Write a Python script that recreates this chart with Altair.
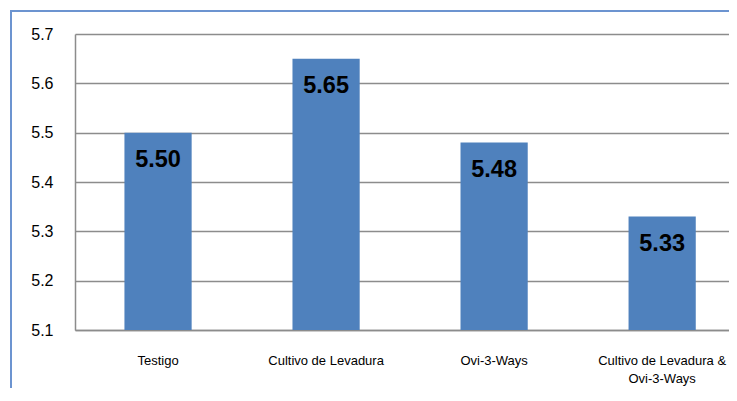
import altair as alt
import pandas as pd

categories = ["Testigo", "Cultivo de Levadura", "Ovi-3-Ways", "Cultivo de Levadura & Ovi-3-Ways"]
values = [5.50, 5.65, 5.48, 5.33]
labels = ["5.50", "5.65", "5.48", "5.33"]

df = pd.DataFrame({"cat": categories, "val": values, "lab": labels})

PLOT_W = 654
PLOT_H = 296

x_enc = alt.X(
    "cat:N",
    sort=categories,
    title=None,
    scale=alt.Scale(paddingInner=0.6, paddingOuter=0.246, align=0.598),
    axis=alt.Axis(
        labelAngle=0,
        labelFont="Liberation Sans",
        labelFontSize=13,
        labelColor="#000000",
        labelPadding=24,
        ticks=False,
        domainColor="#8c8c8c",
        domainWidth=1.5,
        labelExpr="datum.label == 'Cultivo de Levadura & Ovi-3-Ways' ? ['Cultivo de Levadura &', 'Ovi-3-Ways'] : datum.label",
        labelLineHeight=18,
        labelBaseline="top",
    ),
)

y_scale = alt.Scale(domain=[5.1, 5.7], zero=False, nice=False)

frame_left = alt.Chart(df).mark_rule(color="#6c94d0", strokeWidth=2).encode(
    x=alt.value(-64), y=alt.value(-23), y2=alt.value(PLOT_H + 70)
)
frame_top = alt.Chart(df).mark_rule(color="#6c94d0", strokeWidth=2).encode(
    x=alt.value(-65), x2=alt.value(PLOT_W + 20), y=alt.value(-23)
)

bars = alt.Chart(df).mark_bar(color="#4f81bd").encode(
    x=x_enc,
    y=alt.Y(
        "val:Q",
        scale=y_scale,
        title=None,
        axis=alt.Axis(
            values=[5.1, 5.2, 5.3, 5.4, 5.5, 5.6, 5.7],
            format=".1f",
            labelFont="Liberation Sans",
            labelFontSize=16,
            labelColor="#000000",
            labelPadding=22,
            ticks=False,
            grid=True,
            gridColor="#8c8c8c",
            gridWidth=1.5,
            domainColor="#8c8c8c",
            domainWidth=1.5,
        ),
    ),
    y2=alt.datum(5.1),
)

text = alt.Chart(df).mark_text(
    font="Liberation Sans", fontSize=23.5, fontWeight="bold", color="#000000",
    baseline="middle", dy=27
).encode(
    x=alt.X("cat:N", sort=categories),
    y=alt.Y("val:Q", scale=y_scale),
    text="lab:N",
)

chart = alt.layer(frame_left, frame_top, bars, text).properties(
    width=PLOT_W,
    height=PLOT_H,
    padding={"left": 67, "top": 26, "right": 0, "bottom": 58},
    autosize=alt.AutoSizeParams(type="none"),
    background="#ffffff",
).configure_view(stroke=None)

chart.save("out.html", embed_options={"renderer": "svg", "actions": False})
